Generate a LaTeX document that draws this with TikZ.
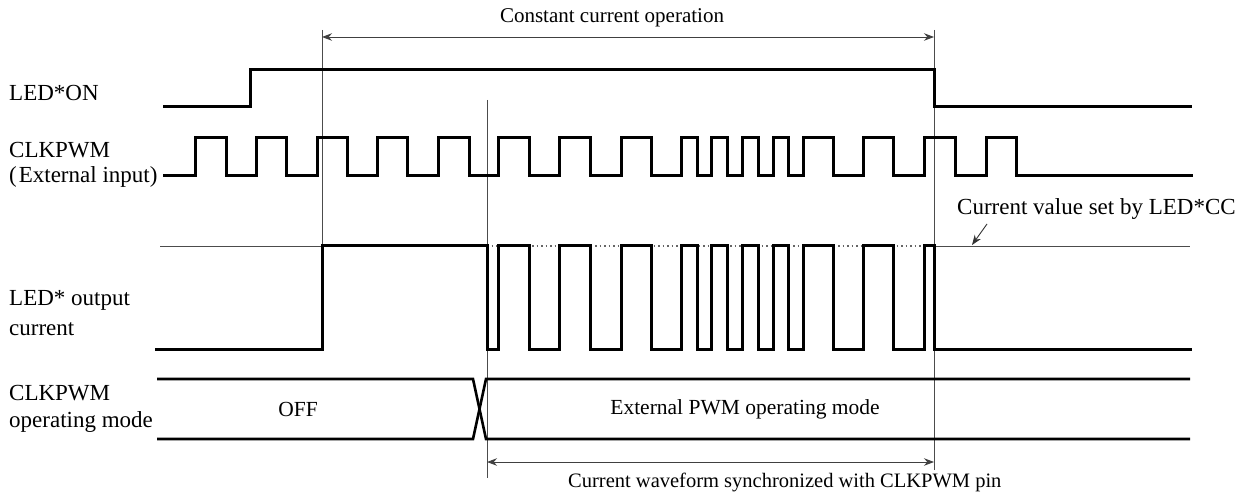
\documentclass[tikz,border=0pt]{standalone}
\usepackage{fontspec}
\setmainfont{Liberation Serif}
\usetikzlibrary{arrows.meta}
\tikzset{
  wave/.style={line width=3pt, line join=miter, black},
  modeline/.style={line width=2.6pt, black},
  guide/.style={line width=0.9pt, black!70},
  refline/.style={line width=0.9pt, black!70},
  dotline/.style={line width=1.3pt, black!60, dash pattern=on 1.5pt off 3pt},
  dimarrow/.style={line width=0.9pt, black!75, {Stealth[length=10pt,width=7.5pt]}-{Stealth[length=10pt,width=7.5pt]}},
  callout/.style={line width=0.9pt, black!80, -{Stealth[length=10pt,width=7.5pt]}},
  lbl/.style={font=\fontsize{21}{25}\selectfont, inner sep=0pt},
  lblL/.style={font=\fontsize{23}{27}\selectfont, inner sep=0pt, anchor=west},
}
\begin{document}
\begin{tikzpicture}[x=1pt,y=-1pt]
\useasboundingbox (0,0) rectangle (1249,494);

% guide lines
\coordinate (g1t) at (322,30);  \coordinate (g1b) at (322,246);
\coordinate (g2t) at (487,100); \coordinate (g2b) at (487,478);
\coordinate (g3t) at (934,30);  \coordinate (g3b) at (934,470);
\draw[guide] (g1t) -- (g1b);
\draw[guide] (g2t) -- (g2b);
\draw[guide] (g3t) -- (g3b);

% top dimension
\coordinate (ta) at (322,37); \coordinate (tb) at (934,37);
\draw[dimarrow] (ta) -- (tb);
\node[lbl] (cco) at (612,18) {Constant current operation};

% left labels
\node[lblL] (lon) at (9,93) {LED*ON};
\node[lblL] (clk1) at (9,150) {CLKPWM};
\node[lblL] (clk2) at (9,177) {(\hspace{2pt}External input)};
\node[lblL] (out1) at (9,300) {LED* output};
\node[lblL] (out2) at (9,329) {current};
\node[lblL] (mod1) at (9,393) {CLKPWM};
\node[lblL] (mod2) at (9,422) {operating mode};

% LED*ON
\draw[wave] (163,107) -- (250,107) |- (934,70) |- (1192,107);

% CLKPWM
\def\L{176}\def\H{138}
\draw[wave] (163,\L) -- (195,\L) |- (226,\H) |- (256,\L) |- (286,\H) |- (317,\L)
  |- (347,\H) |- (377,\L) |- (407,\H) |- (438,\L) |- (469,\H) |- (498,\L)
  |- (529,\H) |- (559,\L) |- (590,\H) |- (621,\L) |- (651,\H) |- (681,\L)
  |- (697,\H) |- (711,\L) |- (727,\H) |- (742,\L) |- (758,\H) |- (773,\L)
  |- (788,\H) |- (803,\L) |- (833,\H) |- (863,\L) |- (893,\H) |- (924,\L)
  |- (955,\H) |- (986,\L) |- (1016,\H) |- (1193,\L);

% reference level
\coordinate (r0) at (160,246); \coordinate (r1) at (487,246);
\coordinate (r2) at (934,246); \coordinate (r3) at (1190,246);
\draw[refline] (r0) -- (r1);
\draw[dotline] (r1) -- (r2);
\draw[refline] (r2) -- (r3);

% LED output current
\def\CL{349}\def\CH{246}
\draw[wave] (155,\CL) -- (322,\CL) |- (487,\CH) |- (498,\CL) |- (529,\CH)
  |- (559,\CL) |- (590,\CH) |- (621,\CL) |- (651,\CH) |- (681,\CL)
  |- (697,\CH) |- (711,\CL) |- (727,\CH) |- (742,\CL) |- (758,\CH)
  |- (773,\CL) |- (788,\CH) |- (803,\CL) |- (833,\CH) |- (863,\CL)
  |- (893,\CH) |- (924,\CL) |- (934,\CH) |- (1192,\CL);

% callout
\node[lblL] (cvs) at (957,209) {Current value set by LED*CC};
\coordinate (ca) at (987,224); \coordinate (cb) at (972,245);
\draw[callout] (ca) -- (cb);

% operating mode
\draw[modeline] (157,379) -- (473,379) -- (486,439) -- (1190,439);
\draw[modeline] (157,439) -- (473,439) -- (486,379) -- (1190,379);
\node[lbl, font=\fontsize{21.5}{25}\selectfont] (off) at (298,409) {OFF};
\node[lbl, font=\fontsize{21.5}{25}\selectfont] (ext) at (745,409) {External PWM operating mode};

% bottom dimension
\coordinate (ba) at (487,462); \coordinate (bb) at (934,462);
\draw[dimarrow] (ba) -- (bb);
\node[lbl, anchor=west, font=\fontsize{20.5}{24}\selectfont] (cws) at (568,482) {Current waveform synchronized with CLKPWM pin};
\end{tikzpicture}
\end{document}
